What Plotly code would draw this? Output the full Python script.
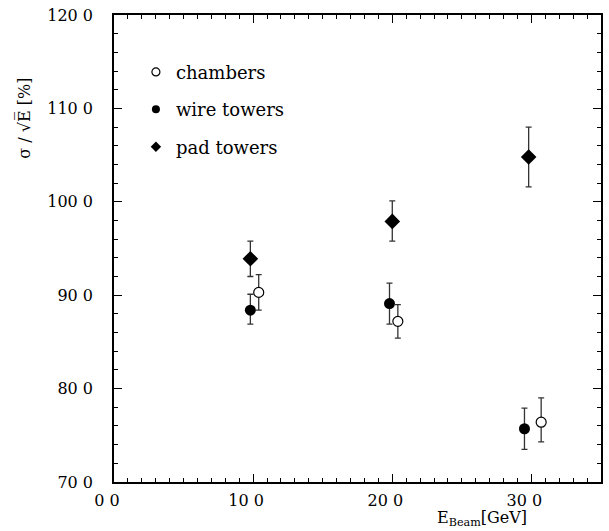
import plotly.graph_objects as go

# Data
chambers_x = [10.4, 20.4, 30.7]
chambers_y = [90.3, 87.2, 76.4]
chambers_err_plus = [1.9, 1.8, 2.6]
chambers_err_minus = [1.9, 1.8, 2.1]

wire_x = [9.8, 19.8, 29.5]
wire_y = [88.4, 89.1, 75.7]
wire_err_plus = [1.7, 2.2, 2.2]
wire_err_minus = [1.5, 2.2, 2.2]

pad_x = [9.8, 20.0, 29.8]
pad_y = [93.9, 97.9, 104.8]
pad_err_plus = [1.9, 2.2, 3.2]
pad_err_minus = [1.9, 2.1, 3.2]

x_tickvals = [0, 10, 20, 30]
x_ticktext = ["0 0", "10 0", "20 0", "30 0"]
y_tickvals = [70, 80, 90, 100, 110, 120]
y_ticktext = ["70 0", "80 0", "90 0", "100 0", "110 0", "120 0"]

names = ["chambers", "wire towers", "pad towers"]

FONT = "DejaVu Serif"
ERRC = "#333333"

def err(p, m):
    return dict(type="data", symmetric=False, array=p, arrayminus=m,
                color=ERRC, thickness=1.3, width=3)

fig = go.Figure()

fig.add_trace(go.Scatter(
    x=wire_x, y=wire_y, mode="markers", showlegend=False,
    marker=dict(symbol="circle", size=11, color="black"),
    error_y=err(wire_err_plus, wire_err_minus)))
fig.add_trace(go.Scatter(
    x=pad_x, y=pad_y, mode="markers", showlegend=False,
    marker=dict(symbol="diamond", size=12, color="black"),
    error_y=err(pad_err_plus, pad_err_minus)))
fig.add_trace(go.Scatter(
    x=chambers_x, y=chambers_y, mode="markers", showlegend=False,
    marker=dict(symbol="circle", size=10, color="white",
                line=dict(color="black", width=1.2)),
    error_y=err(chambers_err_plus, chambers_err_minus)))

# legend-only entries
leg_markers = [
    dict(symbol="circle-open", size=8, color="black", line=dict(width=1.2)),
    dict(symbol="circle", size=8, color="black"),
    dict(symbol="diamond", size=8, color="black"),
]
for i, (n, mk) in enumerate(zip(names, leg_markers)):
    fig.add_trace(go.Scatter(
        x=[None], y=[None], mode="markers", name=n, marker=mk,
        legendgroup=f"g{i}", showlegend=True))

axis_common = dict(
    showgrid=False, zeroline=False, showline=True, linecolor="black",
    linewidth=1.5, mirror="allticks", ticks="inside", ticklen=8,
    tickwidth=1, tickcolor="black",
    tickfont=dict(family=FONT, size=16, color="black"),
)

fig.update_xaxes(
    range=[0, 35], tickmode="array", tickvals=x_tickvals, ticktext=x_ticktext,
    minor=dict(dtick=1, ticks="inside", ticklen=4, tickcolor="black", tickwidth=1),
    ticklabelshift=-7, ticklabelstandoff=3,
    **axis_common)
fig.update_yaxes(
    range=[70, 120], tickmode="array", tickvals=y_tickvals, ticktext=y_ticktext,
    minor=dict(dtick=2, ticks="inside", ticklen=4, tickcolor="black", tickwidth=1),
    ticklabelstandoff=16,
    **axis_common)

fig.add_annotation(
    text="σ / √E̅ [%]", textangle=-90, xref="paper", yref="paper",
    x=-0.185, y=0.78, xanchor="center", yanchor="middle", showarrow=False,
    font=dict(family=FONT, size=16, color="black"))
fig.add_annotation(
    text="E<sub>Beam</sub>[GeV]", xref="paper", yref="paper",
    x=0.755, y=-0.1045, xanchor="center", yanchor="bottom", showarrow=False,
    font=dict(family=FONT, size=16, color="black"))

fig.update_layout(
    width=609, height=531,
    margin=dict(l=114, r=6, t=14, b=49),
    paper_bgcolor="white", plot_bgcolor="white",
    legend=dict(x=0.045, y=0.917, xanchor="left", yanchor="top",
                font=dict(family=FONT, size=18, color="black"),
                traceorder="grouped", tracegroupgap=11,
                bgcolor="rgba(0,0,0,0)", itemwidth=30),
)

fig.write_html("out.html")
